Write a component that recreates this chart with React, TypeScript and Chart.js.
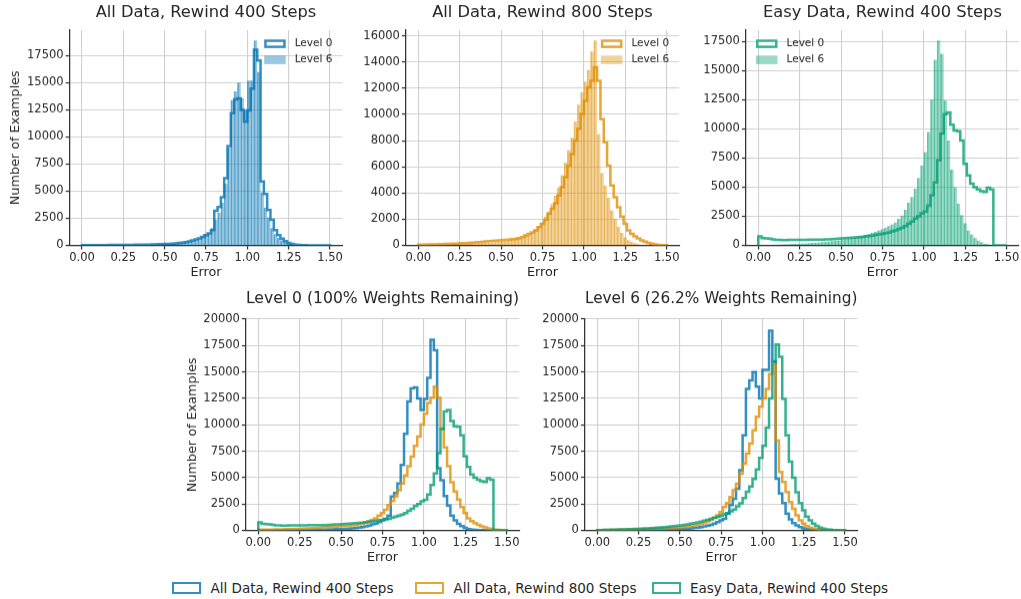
import React, { useEffect, useRef } from 'react';
import { Chart, registerables } from 'chart.js';

Chart.register(...registerables);

// ---------------- data ----------------
const BIN_START = 0;
const BIN_WIDTH = 0.02;

const SERIES_NAMES = ['All Data, Rewind 400 Steps', 'All Data, Rewind 800 Steps', 'Easy Data, Rewind 400 Steps'];
const LEVEL_NAMES = ['Level 0', 'Level 6'];
const BOTTOM_TITLES = ['Level 0 (100% Weights Remaining)', 'Level 6 (26.2% Weights Remaining)'];
const X_LABEL = 'Error';
const Y_LABEL = 'Number of Examples';

const X_TICKS = [0, 0.25, 0.5, 0.75, 1.0, 1.25, 1.5];
const Y_TICKS_2500 = [0, 2500, 5000, 7500, 10000, 12500, 15000, 17500];
const Y_TICKS_2000 = [0, 2000, 4000, 6000, 8000, 10000, 12000, 14000, 16000];
const Y_TICKS_BOTTOM = [0, 2500, 5000, 7500, 10000, 12500, 15000, 17500, 20000];

// counts per bin of width 0.02 from 0.00 to 1.50 (75 bins)
const ALL400_LEVEL0 = [
  20, 20, 20, 25, 25, 30, 30, 30, 35, 35,
  40, 40, 45, 45, 50, 55, 60, 65, 70, 75,
  80, 90, 100, 110, 120, 130, 150, 170, 190, 220,
  260, 310, 380, 460, 560, 650, 780, 950, 1100, 1400,
  3200, 3550, 4450, 6200, 9150, 12200, 13450, 13550, 12500, 11400,
  12450, 14450, 18050, 17050, 5900, 4750, 3250, 2350, 1400, 950,
  620, 400, 230, 130, 70, 40, 25, 15, 10, 8,
  5, 4, 3, 2, 1,
];
const ALL400_LEVEL6 = [
  20, 20, 20, 20, 25, 25, 25, 30, 30, 30,
  35, 35, 40, 40, 45, 50, 55, 60, 65, 70,
  75, 85, 95, 105, 115, 130, 150, 170, 200, 230,
  270, 320, 380, 450, 530, 630, 790, 950, 1100, 1600,
  2400, 3000, 3950, 5700, 9000, 13400, 14200, 15000, 13600, 12500,
  15200, 15200, 18900, 16000, 4900, 3500, 2600, 1600, 1050, 700,
  470, 320, 200, 120, 70, 40, 25, 15, 10, 6,
  4, 3, 2, 1, 1,
];
const ALL800_LEVEL0 = [
  50, 60, 65, 70, 80, 85, 95, 100, 110, 120,
  130, 140, 150, 165, 180, 195, 210, 230, 250, 275,
  300, 320, 340, 360, 380, 400, 420, 440, 470, 500,
  560, 630, 760, 890, 1000, 1140, 1400, 1650, 1950, 2410,
  2790, 3220, 3810, 4440, 5200, 6090, 6980, 8000, 8880, 10030,
  11040, 12060, 12560, 13600, 12560, 9640, 7870, 6090, 4570, 3680,
  2920, 2210, 1650, 1140, 890, 690, 530, 380, 280, 200,
  130, 80, 40, 20, 10,
];
const ALL800_LEVEL6 = [
  30, 35, 40, 45, 50, 55, 60, 65, 70, 75,
  80, 90, 100, 110, 120, 130, 140, 150, 165, 180,
  200, 215, 230, 250, 270, 300, 330, 370, 420, 470,
  540, 620, 720, 850, 1000, 1200, 1420, 1740, 2210, 2590,
  3160, 3790, 4420, 5370, 6320, 7270, 8210, 9480, 10750, 11700,
  12500, 13400, 14800, 15650, 8500, 5530, 4580, 3630, 2690, 2050,
  1420, 950, 630, 410, 270, 170, 100, 60, 40, 25,
  15, 10, 6, 4, 2,
];
const EASY400_LEVEL0 = [
  770, 620, 600, 580, 520, 470, 470, 460, 460, 470,
  470, 470, 480, 480, 480, 490, 490, 490, 500, 500,
  510, 520, 540, 560, 580, 600, 620, 640, 660, 690,
  710, 740, 770, 800, 850, 900, 950, 1000, 1050, 1100,
  1200, 1300, 1400, 1500, 1650, 1850, 2050, 2300, 2500, 2750,
  2900, 3400, 4300, 5400, 7300, 9600, 11250, 11400, 10350, 9850,
  9800, 9000, 7000, 6000, 5300, 5000, 4800, 4650, 4580, 4950,
  4800, 0, 0, 0, 0,
];
const EASY400_LEVEL6 = [
  20, 30, 40, 50, 60, 70, 80, 90, 100, 110,
  120, 135, 150, 165, 180, 200, 220, 240, 260, 285,
  310, 340, 370, 400, 440, 480, 530, 580, 640, 700,
  770, 840, 920, 1000, 1090, 1180, 1290, 1400, 1520, 1650,
  1800, 1980, 2290, 2570, 3060, 3660, 4150, 4860, 5780, 6860,
  8010, 9720, 12500, 15930, 17590, 16440, 12440, 9000, 6500, 5000,
  3600, 2600, 1900, 1300, 950, 650, 420, 270, 160, 100,
  60, 30, 20, 10, 5,
];

// ---------------- styles ----------------
const RGB = ['1,115,178', '222,143,5', '2,158,115'];
const lineColor = (i: number) => `rgba(${RGB[i]},0.8)`;
const barColor = (i: number) => `rgba(${RGB[i]},0.4)`;
const barEdge = (i: number) => `rgba(${RGB[i]},0.55)`;
const FONT = '"DejaVu Sans", sans-serif';
const TEXT = '#262626';
const AXIS = '#333333';
const GRID = '#d0d0d0';
const TITLE_SIZE = 16.3;
const TICK_SIZE = 11.5;
const LABEL_SIZE = 12.8;
const X_AXIS_H = 34.5;

function stepPoints(counts: number[]) {
  const pts: { x: number; y: number }[] = [{ x: BIN_START, y: 0 }];
  counts.forEach((c, i) => {
    const x0 = BIN_START + i * BIN_WIDTH;
    pts.push({ x: x0, y: c }, { x: x0 + BIN_WIDTH, y: c });
  });
  pts.push({ x: BIN_START + counts.length * BIN_WIDTH, y: 0 });
  return pts;
}
function barPoints(counts: number[]) {
  return counts.map((c, i) => ({ x: BIN_START + (i + 0.5) * BIN_WIDTH, y: c }));
}

const innerLegend = {
  id: 'innerLegend',
  afterDatasetsDraw(chart: any, _args: any, opts: any) {
    if (!opts || !opts.items) return;
    const { ctx, chartArea } = chart;
    const bw = 21.5;
    const bh = 8.6;
    const x0 = opts.side === 'right' ? chartArea.right - 78.2 : chartArea.left + 10.1;
    opts.items.forEach((it: any, k: number) => {
      const yTop = chartArea.top + 9.3 + k * 16;
      ctx.save();
      if (it.kind === 'outline') {
        ctx.fillStyle = '#ffffff';
        ctx.fillRect(x0, yTop, bw, bh);
        ctx.strokeStyle = it.color;
        ctx.lineWidth = 2.5;
        ctx.strokeRect(x0 + 1.25, yTop + 1.25, bw - 2.5, bh - 2.5);
      } else {
        ctx.fillStyle = it.color;
        ctx.fillRect(x0, yTop, bw, bh);
      }
      ctx.fillStyle = TEXT;
      ctx.font = `10.5px ${FONT}`;
      ctx.textBaseline = 'middle';
      ctx.textAlign = 'left';
      ctx.fillText(it.label, x0 + 30.5, yTop + bh / 2);
      ctx.restore();
    });
  },
};

type PlotSpec = {
  title: string;
  canvasTop: number;
  titleCenter: number;
  areaTop: number;
  areaBottom: number;
  areaLeft: number;
  areaRight: number;
  yMinWidth: number;
  yTitleCenter: number | null;
  yMax: number;
  yTicks: number[];
  steps: { counts: number[]; color: number; order: number }[];
  bars: { counts: number[]; color: number }[];
  legendSide: 'left' | 'right' | null;
};

const peak = (...arrs: number[][]) => Math.max(...arrs.map((a) => Math.max(...a)));

const PLOTS: PlotSpec[] = [
  {
    title: SERIES_NAMES[0], canvasTop: 0, titleCenter: 12.5, areaTop: 30, areaBottom: 245,
    areaLeft: 69.6, areaRight: 342.4, yMinWidth: 66, yTitleCenter: 15.8,
    yMax: 1.05 * peak(ALL400_LEVEL0, ALL400_LEVEL6), yTicks: Y_TICKS_2500,
    steps: [{ counts: ALL400_LEVEL0, color: 0, order: 0 }],
    bars: [{ counts: ALL400_LEVEL6, color: 0 }], legendSide: 'right',
  },
  {
    title: SERIES_NAMES[1], canvasTop: 0, titleCenter: 12.5, areaTop: 30, areaBottom: 245,
    areaLeft: 405.9, areaRight: 679.1, yMinWidth: 50, yTitleCenter: null,
    yMax: 1.05 * peak(ALL800_LEVEL0, ALL800_LEVEL6), yTicks: Y_TICKS_2000,
    steps: [{ counts: ALL800_LEVEL0, color: 1, order: 0 }],
    bars: [{ counts: ALL800_LEVEL6, color: 1 }], legendSide: 'right',
  },
  {
    title: SERIES_NAMES[2], canvasTop: 0, titleCenter: 12.5, areaTop: 30, areaBottom: 245,
    areaLeft: 745.9, areaRight: 1019.1, yMinWidth: 50, yTitleCenter: null,
    yMax: 1.05 * peak(EASY400_LEVEL0, EASY400_LEVEL6), yTicks: Y_TICKS_2500,
    steps: [{ counts: EASY400_LEVEL0, color: 2, order: 0 }],
    bars: [{ counts: EASY400_LEVEL6, color: 2 }], legendSide: 'left',
  },
  {
    title: BOTTOM_TITLES[0], canvasTop: 285, titleCenter: 298.5, areaTop: 319, areaBottom: 530,
    areaLeft: 245.9, areaRight: 519.1, yMinWidth: 66, yTitleCenter: 192.3,
    yMax: 20000, yTicks: Y_TICKS_BOTTOM,
    steps: [
      { counts: ALL400_LEVEL0, color: 0, order: 2 },
      { counts: ALL800_LEVEL0, color: 1, order: 1 },
      { counts: EASY400_LEVEL0, color: 2, order: 0 },
    ],
    bars: [], legendSide: null,
  },
  {
    title: BOTTOM_TITLES[1], canvasTop: 285, titleCenter: 298.5, areaTop: 319, areaBottom: 530,
    areaLeft: 584.9, areaRight: 857.4, yMinWidth: 50, yTitleCenter: null,
    yMax: 20000, yTicks: Y_TICKS_BOTTOM,
    steps: [
      { counts: ALL400_LEVEL6, color: 0, order: 2 },
      { counts: ALL800_LEVEL6, color: 1, order: 1 },
      { counts: EASY400_LEVEL6, color: 2, order: 0 },
    ],
    bars: [], legendSide: null,
  },
];

function geometry(spec: PlotSpec) {
  const left = Math.floor(spec.areaLeft - spec.yMinWidth);
  const yWidth = spec.areaLeft - left;
  const padRight = Math.min(4, 1021 - spec.areaRight);
  const width = Math.ceil(spec.areaRight + padRight - left);
  const rightPad = width - (spec.areaRight - left);
  const height = spec.areaBottom - spec.canvasTop + X_AXIS_H;
  return { left, yWidth, width, height, rightPad };
}

function SubPlot({ spec }: { spec: PlotSpec }) {
  const ref = useRef<HTMLCanvasElement>(null);
  const g = geometry(spec);
  useEffect(() => {
    if (!ref.current) return;
    const lh = TITLE_SIZE * 1.2;
    const tTop = spec.titleCenter - spec.canvasTop - lh / 2;
    const tBottom = spec.areaTop - spec.canvasTop - tTop - lh;
    const labelLh = LABEL_SIZE * 1.2;
    const datasets: any[] = [];
    spec.steps.forEach((s) => {
      datasets.push({
        type: 'line',
        label: LEVEL_NAMES[0],
        data: stepPoints(s.counts),
        borderColor: lineColor(s.color),
        backgroundColor: lineColor(s.color),
        borderWidth: 2.5,
        pointRadius: 0,
        tension: 0,
        fill: false,
        borderJoinStyle: 'miter',
        order: s.order,
      });
    });
    spec.bars.forEach((b) => {
      datasets.push({
        type: 'bar',
        label: LEVEL_NAMES[1],
        data: barPoints(b.counts),
        backgroundColor: barColor(b.color),
        borderColor: barEdge(b.color),
        borderWidth: { left: 0.9, right: 0, top: 0, bottom: 0 },
        borderSkipped: false,
        barPercentage: 1,
        categoryPercentage: 1,
        order: 5,
      });
    });
    const legendItems = spec.legendSide
      ? [
          { label: LEVEL_NAMES[0], kind: 'outline', color: lineColor(spec.steps[0].color) },
          { label: LEVEL_NAMES[1], kind: 'fill', color: barColor(spec.bars[0].color) },
        ]
      : null;
    const chart = new Chart(ref.current, {
      type: 'line',
      data: { datasets },
      plugins: [innerLegend as any],
      options: {
        animation: false,
        responsive: false,
        events: [],
        layout: { padding: { left: 0, top: 0, bottom: 0, right: g.rightPad } },
        plugins: {
          legend: { display: false },
          tooltip: { enabled: false },
          title: {
            display: true,
            text: spec.title,
            fullSize: false,
            color: TEXT,
            font: { family: FONT, size: TITLE_SIZE, weight: 'normal', lineHeight: 1.2 },
            padding: { top: tTop, bottom: tBottom },
          },
          innerLegend: legendItems ? { side: spec.legendSide, items: legendItems } : {},
        } as any,
        scales: {
          x: {
            type: 'linear',
            min: -0.075,
            max: 1.575,
            offset: false,
            grid: { color: GRID, lineWidth: 1.1, tickColor: AXIS, tickLength: 4, tickWidth: 1.25, offset: false },
            border: { display: true, color: AXIS, width: 1.25 },
            ticks: {
              autoSkip: false,
              maxRotation: 0,
              minRotation: 0,
              padding: 1.5,
              color: TEXT,
              font: { family: FONT, size: TICK_SIZE },
              callback: (v: any) => Number(v).toFixed(2),
            },
            afterBuildTicks: (s: any) => {
              s.ticks = X_TICKS.map((v) => ({ value: v }));
            },
            title: { display: true, text: X_LABEL, color: TEXT, font: { family: FONT, size: LABEL_SIZE, lineHeight: 1.2 }, padding: 0 },
            afterFit: (s: any) => {
              s.height = X_AXIS_H;
            },
          },
          y: {
            type: 'linear',
            min: 0,
            max: spec.yMax,
            grid: { color: GRID, lineWidth: 1.1, tickColor: AXIS, tickLength: 4, tickWidth: 1.25 },
            border: { display: true, color: AXIS, width: 1.25 },
            ticks: {
              autoSkip: false,
              padding: 2,
              color: TEXT,
              font: { family: FONT, size: TICK_SIZE },
              callback: (v: any) => String(v),
            },
            afterBuildTicks: (s: any) => {
              s.ticks = spec.yTicks.map((v) => ({ value: v }));
            },
            title: {
              display: spec.yTitleCenter !== null,
              text: Y_LABEL,
              color: TEXT,
              font: { family: FONT, size: LABEL_SIZE, lineHeight: 1.2 },
              padding: { top: spec.yTitleCenter !== null ? spec.yTitleCenter - g.left - labelLh / 2 : 0, bottom: 0 },
            },
            afterFit: (s: any) => {
              s.width = g.yWidth;
            },
          },
        } as any,
      },
    } as any);
    return () => chart.destroy();
  }, []);
  return (
    <canvas
      ref={ref}
      width={g.width}
      height={g.height}
      style={{ position: 'absolute', left: g.left, top: spec.canvasTop, width: g.width, height: g.height }}
    />
  );
}

const LEGEND_POS = [
  { box: 172, text: 210.5 },
  { box: 414.5, text: 453.5 },
  { box: 651.5, text: 690 },
];

export default function App() {
  return (
    <div
      style={{
        position: 'absolute',
        left: 0,
        top: 0,
        width: 1021,
        height: 599,
        overflow: 'hidden',
        background: '#ffffff',
        fontFamily: FONT,
      }}
    >
      {PLOTS.map((p, i) => (
        <SubPlot key={i} spec={p} />
      ))}
      {SERIES_NAMES.map((name, i) => (
        <React.Fragment key={name}>
          <div
            style={{
              position: 'absolute',
              left: LEGEND_POS[i].box,
              top: 582,
              width: 29,
              height: 12,
              boxSizing: 'border-box',
              border: `2.5px solid ${lineColor(i)}`,
              background: '#fff',
            }}
          />
          <div
            style={{
              position: 'absolute',
              left: LEGEND_POS[i].text,
              top: 580,
              fontSize: 13.5,
              lineHeight: '16px',
              color: TEXT,
              whiteSpace: 'nowrap',
            }}
          >
            {name}
          </div>
        </React.Fragment>
      ))}
    </div>
  );
}
